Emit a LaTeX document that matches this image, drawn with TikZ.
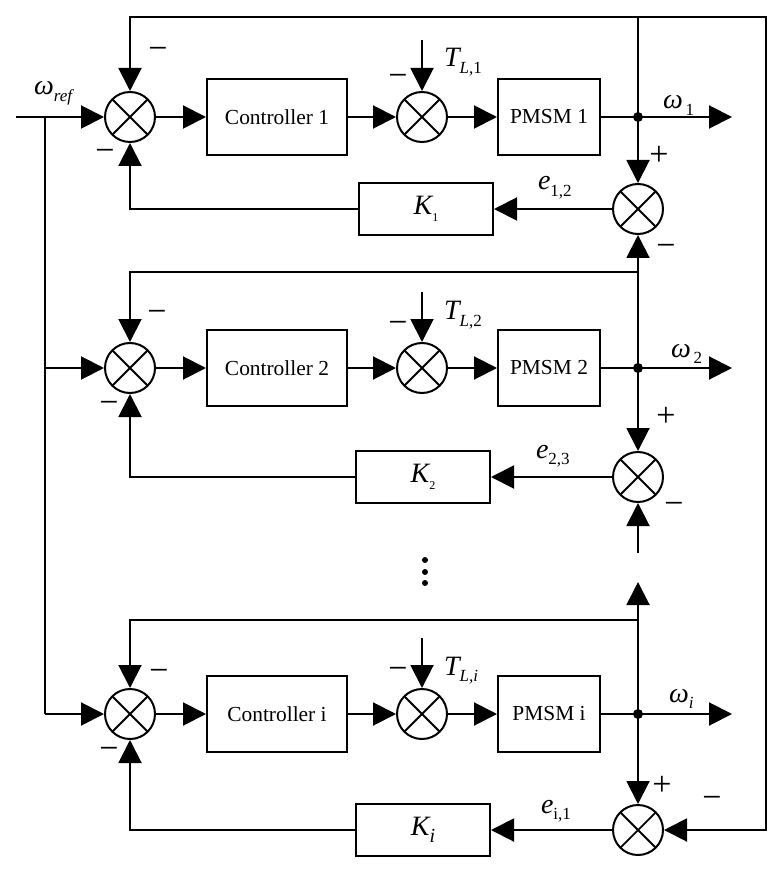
\documentclass[tikz,border=0pt]{standalone}
\usepackage{fontspec}
\setmainfont{Liberation Serif}
\usetikzlibrary{arrows.meta}
\newcommand{\msym}[2]{{\fontsize{14}{16}\selectfont\itshape #1}\raisebox{-0.7ex}{\fontsize{8.5}{10}\selectfont #2}}
\begin{document}
\begin{tikzpicture}[x=0.5pt,y=-0.5pt,
  line width=1pt,
  arr/.style={-{Triangle[length=11.5pt,width=11.5pt]}},
  sumnode/.style={circle,draw,minimum size=25pt,inner sep=0pt,
    path picture={\draw[line width=0.9pt] (path picture bounding box.north west)--(path picture bounding box.south east)
      (path picture bounding box.north east)--(path picture bounding box.south west);}},
  ctrl/.style={draw,minimum width=70pt,minimum height=38pt,inner sep=0pt,font=\fontsize{10.7}{12}\selectfont},
  pmsm/.style={draw,minimum width=51pt,minimum height=38pt,inner sep=0pt,font=\fontsize{10.7}{12}\selectfont},
  kbox/.style={draw,minimum width=67pt,minimum height=26pt,inner sep=0pt},
  sgn/.style={font=\fontsize{17}{18}\selectfont,inner sep=0pt},
  lbl/.style={inner sep=0pt,anchor=base west},
  jdot/.style={circle,fill,inner sep=0pt,minimum size=5pt},
  vdot/.style={circle,fill,inner sep=0pt,minimum size=3pt}
]
\useasboundingbox (0,0) rectangle (781,871);

% ---------- row 1 ----------
\node[sumnode] (s11) at (130,117) {};
\node[ctrl] (c1) at (277,117) {Controller 1};
\node[sumnode] (s21) at (422,117) {};
\node[pmsm] (p1) at (549,117) {PMSM 1};
\node[jdot] (j1) at (638,117) {};
\coordinate (o1) at (732,117);
\node[sumnode] (s31) at (638,209) {};
\node[kbox] (k1) at (426,209) {\msym{K}{\fontsize{6}{7}\selectfont 1}};
\coordinate (tl1) at (422,40);
\coordinate (top1) at (638,17);
\coordinate (rc) at (766,17);
\coordinate (in) at (16,117);
\coordinate (rb1) at (45,117);

% ---------- row 2 ----------
\node[sumnode] (s12) at (130,368) {};
\node[ctrl] (c2) at (277,368) {Controller 2};
\node[sumnode] (s22) at (422,368) {};
\node[pmsm] (p2) at (549,368) {PMSM 2};
\node[jdot] (j2) at (638,368) {};
\coordinate (o2) at (732,368);
\node[sumnode] (s32) at (638,477) {};
\node[kbox] (k2) at (423,477) {\msym{K}{\fontsize{6}{7}\selectfont 2}};
\coordinate (tl2) at (422,292);
\coordinate (b2) at (638,272);
\coordinate (rb2) at (45,368);
\coordinate (stub2) at (638,553);

% ---------- row i ----------
\node[sumnode] (s1i) at (130,714) {};
\node[ctrl] (ci) at (277,714) {Controller i};
\node[sumnode] (s2i) at (422,714) {};
\node[pmsm] (pi) at (549,714) {PMSM i};
\node[jdot] (ji) at (638,714) {};
\coordinate (oi) at (732,714);
\node[sumnode] (s3i) at (638,830) {};
\node[kbox] (ki) at (423,830) {\msym{K}{\fontsize{10}{12}\selectfont\itshape i}};
\coordinate (tli) at (422,638);
\coordinate (bi) at (638,620);
\coordinate (upi) at (638,582);
\coordinate (rbi) at (45,714);

% dots
\node[vdot] (d1) at (425,560) {};
\node[vdot] (d2) at (425,572) {};
\node[vdot] (d3) at (425,583) {};

% ---------- connectors row 1 ----------
\draw[arr] (in) -- (s11);
\draw[arr] (s11) -- (c1);
\draw[arr] (c1) -- (s21);
\draw[arr] (s21) -- (p1);
\draw (p1) -- (j1.center);
\draw[arr] (j1.center) -- (o1);
\draw[arr] (tl1) -- (s21);
\draw[arr] (j1.center) -- (s31);
\draw[arr] (s31) -- (k1);
\draw[arr] (k1) -| (s11);
\draw[arr] (j1.center) -- (top1) -| (s11);
\draw[arr] (top1) -- (rc) |- (s3i);

% ---------- connectors row 2 ----------
\draw (rb1) -- (rbi);
\draw[arr] (rb2) -- (s12);
\draw[arr] (s12) -- (c2);
\draw[arr] (c2) -- (s22);
\draw[arr] (s22) -- (p2);
\draw (p2) -- (j2.center);
\draw[arr] (j2.center) -- (o2);
\draw[arr] (tl2) -- (s22);
\draw[arr] (j2.center) -- (s31);
\draw[arr] (b2) -| (s12);
\draw[arr] (j2.center) -- (s32);
\draw[arr] (s32) -- (k2);
\draw[arr] (k2) -| (s12);
\draw[arr] (stub2) -- (s32);

% ---------- connectors row i ----------
\draw[arr] (rbi) -- (s1i);
\draw[arr] (s1i) -- (ci);
\draw[arr] (ci) -- (s2i);
\draw[arr] (s2i) -- (pi);
\draw (pi) -- (ji.center);
\draw[arr] (ji.center) -- (oi);
\draw[arr] (tli) -- (s2i);
\draw[arr] (ji.center) -- (upi);
\draw[arr] (bi) -| (s1i);
\draw[arr] (ji.center) -- (s3i);
\draw[arr] (s3i) -- (ki);
\draw[arr] (ki) -| (s1i);

% ---------- labels ----------
\node[lbl] (lref) at (33,95) {\msym{ω}{\itshape ref}};
\node[lbl] (lt1) at (443,67) {\msym{T}{\itshape L\upshape,1}};
\node[lbl] (lt2) at (443,320) {\msym{T}{\itshape L\upshape,2}};
\node[lbl] (lti) at (443,675) {\msym{T}{\itshape L,i}};
\node[lbl] (lw1) at (662,109) {\msym{ω}{\,1}};
\node[lbl] (lw2) at (670,357) {\msym{ω}{\,2}};
\node[lbl] (lwi) at (668,702) {\msym{ω}{\itshape i}};
\node[lbl] (le1) at (537,190) {\msym{e}{1,2}};
\node[lbl] (le2) at (535,458) {\msym{e}{2,3}};
\node[lbl] (lei) at (540,813) {\msym{e}{i,1}};

% signs
\node[sgn] (m11) at (158,53) {−};
\node[sgn] (m12) at (105,155) {−};
\node[sgn] (m13) at (398,80) {−};
\node[sgn] (p14) at (659,156) {+};
\node[sgn] (m15) at (666,250) {−};
\node[sgn] (m21) at (157,316) {−};
\node[sgn] (m22) at (109,407) {−};
\node[sgn] (m23) at (398,327) {−};
\node[sgn] (p24) at (666,417) {+};
\node[sgn] (m25) at (674,508) {−};
\node[sgn] (mi1) at (159,675) {−};
\node[sgn] (mi2) at (109,753) {−};
\node[sgn] (mi3) at (398,673) {−};
\node[sgn] (pi4) at (662,786) {+};
\node[sgn] (mi5) at (712,802) {−};
\end{tikzpicture}
\end{document}
